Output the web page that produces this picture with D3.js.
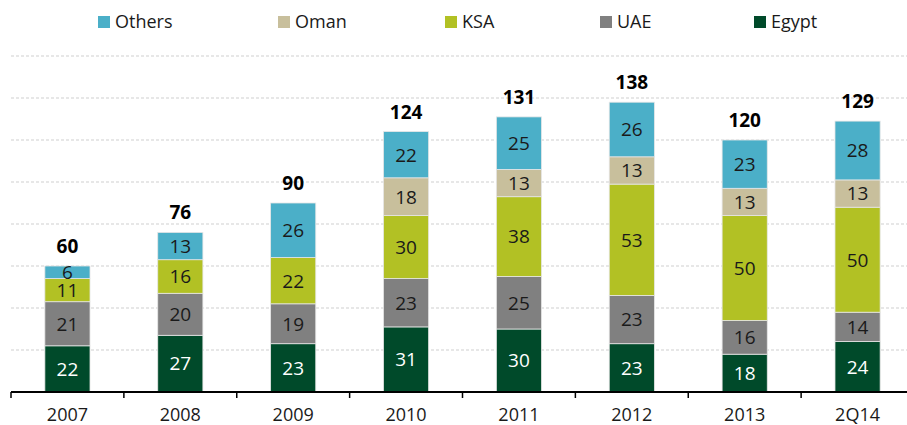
<!DOCTYPE html>
<html>
<head>
<meta charset="utf-8">
<script src="https://cdn.jsdelivr.net/npm/d3@7"></script>
<style>
  body { margin: 0; background: #fff; }
  svg { font-family: "Open Sans", "Noto Sans", sans-serif; }
</style>
</head>
<body>
<div id="chart"></div>
<script>
const categories = ["2007", "2008", "2009", "2010", "2011", "2012", "2013", "2Q14"];
const egypt  = [22, 27, 23, 31, 30, 23, 18, 24];
const uae    = [21, 20, 19, 23, 25, 23, 16, 14];
const ksa    = [11, 16, 22, 30, 38, 53, 50, 50];
const oman   = [0, 0, 0, 18, 13, 13, 13, 13];
const others = [6, 13, 26, 22, 25, 26, 23, 28];
const totals = [60, 76, 90, 124, 131, 138, 120, 129];
const yTicks = [20, 40, 60, 80, 100, 120, 140, 160];

const series = [
  { name: "Egypt",  values: egypt,  color: "#004a2a", text: "#fff" },
  { name: "UAE",    values: uae,    color: "#808080", text: "#1a1a1a" },
  { name: "KSA",    values: ksa,    color: "#b2c124", text: "#1a1a1a" },
  { name: "Oman",   values: oman,   color: "#c8bf9c", text: "#1a1a1a" },
  { name: "Others", values: others, color: "#4bafc8", text: "#1a1a1a" }
];

const W = 907, H = 425;
const svg = d3.select("#chart").append("svg").attr("width", W).attr("height", H);

const x = d3.scaleBand().domain(categories).range([11, 914]).paddingInner(0.6).paddingOuter(0.3);
const y = d3.scaleLinear().domain([0, 160]).range([392, 56]);

// gridlines
svg.append("g").selectAll("line").data(yTicks).enter().append("line")
  .attr("x1", 11).attr("x2", W)
  .attr("y1", d => y(d)).attr("y2", d => y(d))
  .attr("stroke", "#cfcfcf").attr("stroke-width", 1).attr("stroke-dasharray", "3,2");

// stack
const rows = categories.map((c, i) => {
  const r = { cat: c };
  series.forEach(s => r[s.name] = s.values[i]);
  return r;
});
const stack = d3.stack().keys(series.map(s => s.name))(rows);

const layers = svg.append("g").selectAll("g").data(stack).enter().append("g");
layers.selectAll("rect").data(d => d.filter(p => p[1] - p[0] > 0)).enter().append("rect")
  .attr("x", d => x(d.data.cat))
  .attr("width", x.bandwidth())
  .attr("y", d => y(d[1]))
  .attr("height", d => y(d[0]) - y(d[1]))
  .attr("fill", function () { return series[d3.select(this.parentNode).datum().index].color; })
  .attr("stroke", "#e6e6e6").attr("stroke-width", 0.8);

layers.selectAll("text").data(d => d.filter(p => p[1] - p[0] > 0)).enter().append("text")
  .attr("x", d => x(d.data.cat) + x.bandwidth() / 2)
  .attr("y", d => (y(d[0]) + y(d[1])) / 2)
  .attr("dy", "0.36em")
  .attr("text-anchor", "middle")
  .attr("font-size", 19)
  .attr("fill", function () { return series[d3.select(this.parentNode).datum().index].text; })
  .text(d => d[1] - d[0]);

// totals
svg.append("g").selectAll("text").data(categories).enter().append("text")
  .attr("x", d => x(d) + x.bandwidth() / 2)
  .attr("y", (d, i) => y(totals[i]) - 13)
  .attr("text-anchor", "middle")
  .attr("font-size", 19).attr("font-weight", "bold").attr("fill", "#000")
  .text((d, i) => totals[i]);

// x axis
const axis = svg.append("g").attr("transform", `translate(0,${y(0)})`);
axis.append("line").attr("x1", 11).attr("x2", W).attr("stroke", "#000").attr("stroke-width", 2);
const step = x.step();
axis.selectAll(".tk").data(categories).enter().append("line")
  .attr("x1", (d, i) => 11 + i * step).attr("x2", (d, i) => 11 + i * step)
  .attr("y1", 0).attr("y2", 6).attr("stroke", "#000").attr("stroke-width", 1.5);
axis.selectAll("text").data(categories).enter().append("text")
  .attr("x", d => x(d) + x.bandwidth() / 2)
  .attr("y", 29)
  .attr("text-anchor", "middle")
  .attr("font-size", 18).attr("fill", "#1a1a1a")
  .text(d => d);

// legend
const legendItems = [
  { name: "Others", color: "#4bafc8", x: 98 },
  { name: "Oman",   color: "#c8bf9c", x: 278 },
  { name: "KSA",    color: "#b2c124", x: 445 },
  { name: "UAE",    color: "#808080", x: 600 },
  { name: "Egypt",  color: "#004a2a", x: 754 }
];
const lg = svg.append("g").selectAll("g").data(legendItems).enter().append("g")
  .attr("transform", d => `translate(${d.x},16)`);
lg.append("rect").attr("width", 12).attr("height", 12).attr("fill", d => d.color);
lg.append("text").attr("x", 17).attr("y", 6).attr("dy", "0.36em")
  .attr("font-size", 18).attr("fill", "#1a1a1a").text(d => d.name);
</script>
</body>
</html>
